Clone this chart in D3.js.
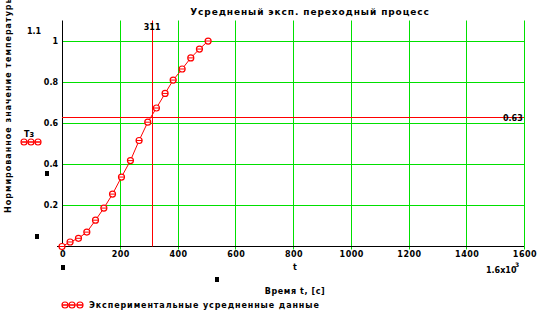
<!DOCTYPE html>
<html>
<head>
<meta charset="utf-8">
<script src="https://cdn.jsdelivr.net/npm/d3@7"></script>
<style>
body { margin:0; background:#fff; }
svg { display:block; }
text { font-family:"DejaVu Sans", sans-serif; font-weight:bold; fill:#000; }
</style>
</head>
<body>
<svg width="544" height="314"></svg>
<script>
// averaged experimental transient, time in seconds and normalised temperature
var times  = [0, 28, 57, 86, 116, 145, 175, 206, 237, 267, 297, 327, 357, 385, 416, 446, 476, 506];
var values = [0, 0.022, 0.04, 0.07, 0.128, 0.187, 0.255, 0.338, 0.418, 0.516, 0.605, 0.674, 0.745, 0.81, 0.864, 0.918, 0.961, 1.0];
var xTicks = [0, 200, 400, 600, 800, 1000, 1200, 1400, 1600];
var yTicks = [0.2, 0.4, 0.6, 0.8, 1];
var tMark = 311;   // time at 0.63 level
var level = 0.63;

var svg = d3.select('svg');
var x = d3.scaleLinear().domain([0, 1600]).range([62, 524]);
var y = d3.scaleLinear().domain([0, 1.1]).range([246.5, 20.5]);
var green = '#00e000', red = '#ff0000';

// grid
svg.selectAll('.gx').data(xTicks.slice(1)).enter().append('line')
	.attr('x1', d => Math.round(x(d)) + 0.5).attr('x2', d => Math.round(x(d)) + 0.5)
	.attr('y1', y(1.1)).attr('y2', y(0) + 3)
	.attr('stroke', green);
svg.selectAll('.gy').data(yTicks).enter().append('line')
	.attr('x1', x(0)).attr('x2', x(1600))
	.attr('y1', d => Math.round(y(d)) + 0.5).attr('y2', d => Math.round(y(d)) + 0.5)
	.attr('stroke', green);

// axes lines
svg.append('line').attr('x1', 57).attr('x2', x(1600)).attr('y1', 246.5).attr('y2', 246.5).attr('stroke', '#000');
svg.append('line').attr('x1', 62.5).attr('x2', 62.5).attr('y1', y(1.1)).attr('y2', 250).attr('stroke', '#000');

// marker lines
svg.append('line').attr('x1', Math.round(x(tMark)) + 0.5).attr('x2', Math.round(x(tMark)) + 0.5)
	.attr('y1', y(1.1)).attr('y2', y(0)).attr('stroke', red);
svg.append('line').attr('x1', x(0)).attr('x2', x(1600))
	.attr('y1', Math.round(y(level)) + 0.5).attr('y2', Math.round(y(level)) + 0.5).attr('stroke', red);
svg.append('text').attr('x', x(tMark) - 8).attr('y', 30).attr('font-size', 8).text(tMark);
svg.append('text').attr('x', 503).attr('y', 121).attr('font-size', 8).text(level);

// tick labels
svg.selectAll('.tx').data(xTicks).enter().append('text')
	.attr('x', d => x(d) + 1).attr('y', 257).attr('font-size', 8)
	.attr('text-anchor', 'middle').attr('letter-spacing', 0.5).text(d => d);
svg.selectAll('.ty').data(yTicks).enter().append('text')
	.attr('x', 58).attr('y', d => y(d) + 3).attr('font-size', 8)
	.attr('text-anchor', 'end').text(d => d);
svg.append('text').attr('x', 27).attr('y', 34).attr('font-size', 8).attr('font-weight', 'normal').text('1.1');
svg.append('text').attr('x', 486).attr('y', 273).attr('font-size', 8).text('1.6x10');
svg.append('text').attr('x', 515).attr('y', 267).attr('font-size', 6).text('3');
svg.append('text').attr('x', 293).attr('y', 270).attr('font-size', 8).text('t');

// stray glyph blocks
[[35, 234], [45, 171], [61, 265], [215, 277]].forEach(function(p){
	svg.append('rect').attr('x', p[0]).attr('y', p[1]).attr('width', 4).attr('height', 5).attr('fill', '#000');
});

// title and axis titles
svg.append('text').attr('x', 310).attr('y', 15).attr('font-size', 9)
	.attr('text-anchor', 'middle').attr('letter-spacing', 0.9).text('Усредненый эксп. переходный процесс');
svg.append('text').attr('x', 295).attr('y', 294).attr('font-size', 8)
	.attr('text-anchor', 'middle').attr('letter-spacing', 0.6).text('Время t, [с]');
svg.append('text').attr('transform', 'translate(11,213) rotate(-90)').attr('font-size', 8)
	.attr('letter-spacing', 1).text('Нормированное значение температуры');

// data line and markers
var line = d3.line().x((d, i) => x(times[i])).y(d => y(d));
svg.append('path').datum(values).attr('d', line).attr('fill', 'none').attr('stroke', red);

function marker(g, cx, cy) {
	g.append('circle').attr('cx', cx).attr('cy', cy).attr('r', 3).attr('fill', '#fff').attr('stroke', red).attr('stroke-width', 1.2);
	g.append('line').attr('x1', cx - 3).attr('x2', cx + 3).attr('y1', cy).attr('y2', cy).attr('stroke', red);
}
var pts = svg.append('g');
values.forEach(function(v, i){ marker(pts, x(times[i]), y(v)); });

// legends
var leg1 = svg.append('g');
svg.append('line').attr('x1', 22).attr('x2', 40).attr('y1', 142).attr('y2', 142).attr('stroke', red);
[24, 31, 38].forEach(function(cx){ marker(leg1, cx, 142); });
svg.append('text').attr('x', 24).attr('y', 137).attr('font-size', 8).attr('font-weight', 'normal').text('Tз');

var leg2 = svg.append('g');
svg.append('line').attr('x1', 62).attr('x2', 83).attr('y1', 305).attr('y2', 305).attr('stroke', red);
[65, 72, 80].forEach(function(cx){ marker(leg2, cx, 305); });
svg.append('text').attr('x', 89).attr('y', 308).attr('font-size', 8).attr('letter-spacing', 0.9)
	.text('Экспериментальные усредненные данные');
</script>
</body>
</html>
